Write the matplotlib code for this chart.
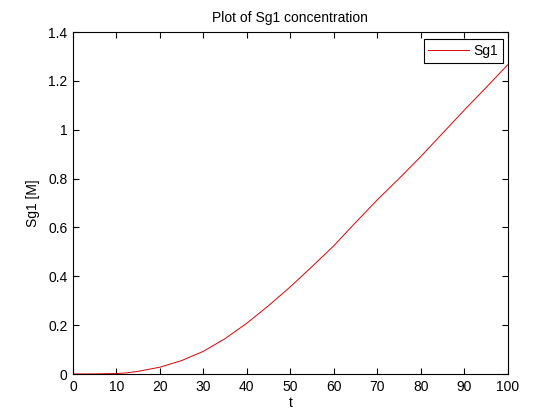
import matplotlib
matplotlib.use("Agg")
import matplotlib.pyplot as plt

t = [0, 5, 10, 12, 15, 20, 25, 30, 35, 40, 45, 50, 55, 60, 65, 70, 75, 80, 85, 90, 95, 100]
sg1 = [0.0, 0.0004, 0.002, 0.004, 0.011, 0.028, 0.055, 0.093, 0.145, 0.208, 0.280, 0.357, 0.440, 0.525, 0.620, 0.713, 0.800, 0.890, 0.985, 1.080, 1.172, 1.266]
xticks = [0, 10, 20, 30, 40, 50, 60, 70, 80, 90, 100]
yticks = [0, 0.2, 0.4, 0.6, 0.8, 1.0, 1.2, 1.4]
yticklabels = ["0", "0.2", "0.4", "0.6", "0.8", "1", "1.2", "1.4"]

plt.rcParams['font.family'] = ['Liberation Sans', 'DejaVu Sans']
plt.rcParams['font.size'] = 10

fig = plt.figure(figsize=(5.6, 4.2), dpi=100)
ax = fig.add_axes([0.1304, 0.1095, 0.776, 0.814])
ax.plot(t, sg1, color='#e00000', linewidth=0.7, label='Sg1')
ax.set_xlim(0, 100)
ax.set_ylim(0, 1.4)
ax.set_xticks(xticks)
ax.set_yticks(yticks)
ax.set_yticklabels(yticklabels)
ax.tick_params(direction='in', top=True, right=True, length=4, width=0.8, pad=4, labelsize=10)
for s in ax.spines.values():
    s.set_linewidth(0.8)
ax.set_title('Plot of Sg1 concentration', fontsize=10, pad=7)
ax.set_xlabel('t', fontsize=10, labelpad=2)
ax.set_ylabel('Sg1 [M]', fontsize=10, labelpad=6)
leg = ax.legend(loc='upper right', bbox_to_anchor=(0.9896, 0.9795), borderaxespad=0,
                fancybox=False, edgecolor='black', framealpha=1,
                handlelength=2.9, handletextpad=0.35, borderpad=0.35, fontsize=10)
leg.get_frame().set_linewidth(0.8)
fig.savefig('out.png', dpi=100, facecolor='white')
